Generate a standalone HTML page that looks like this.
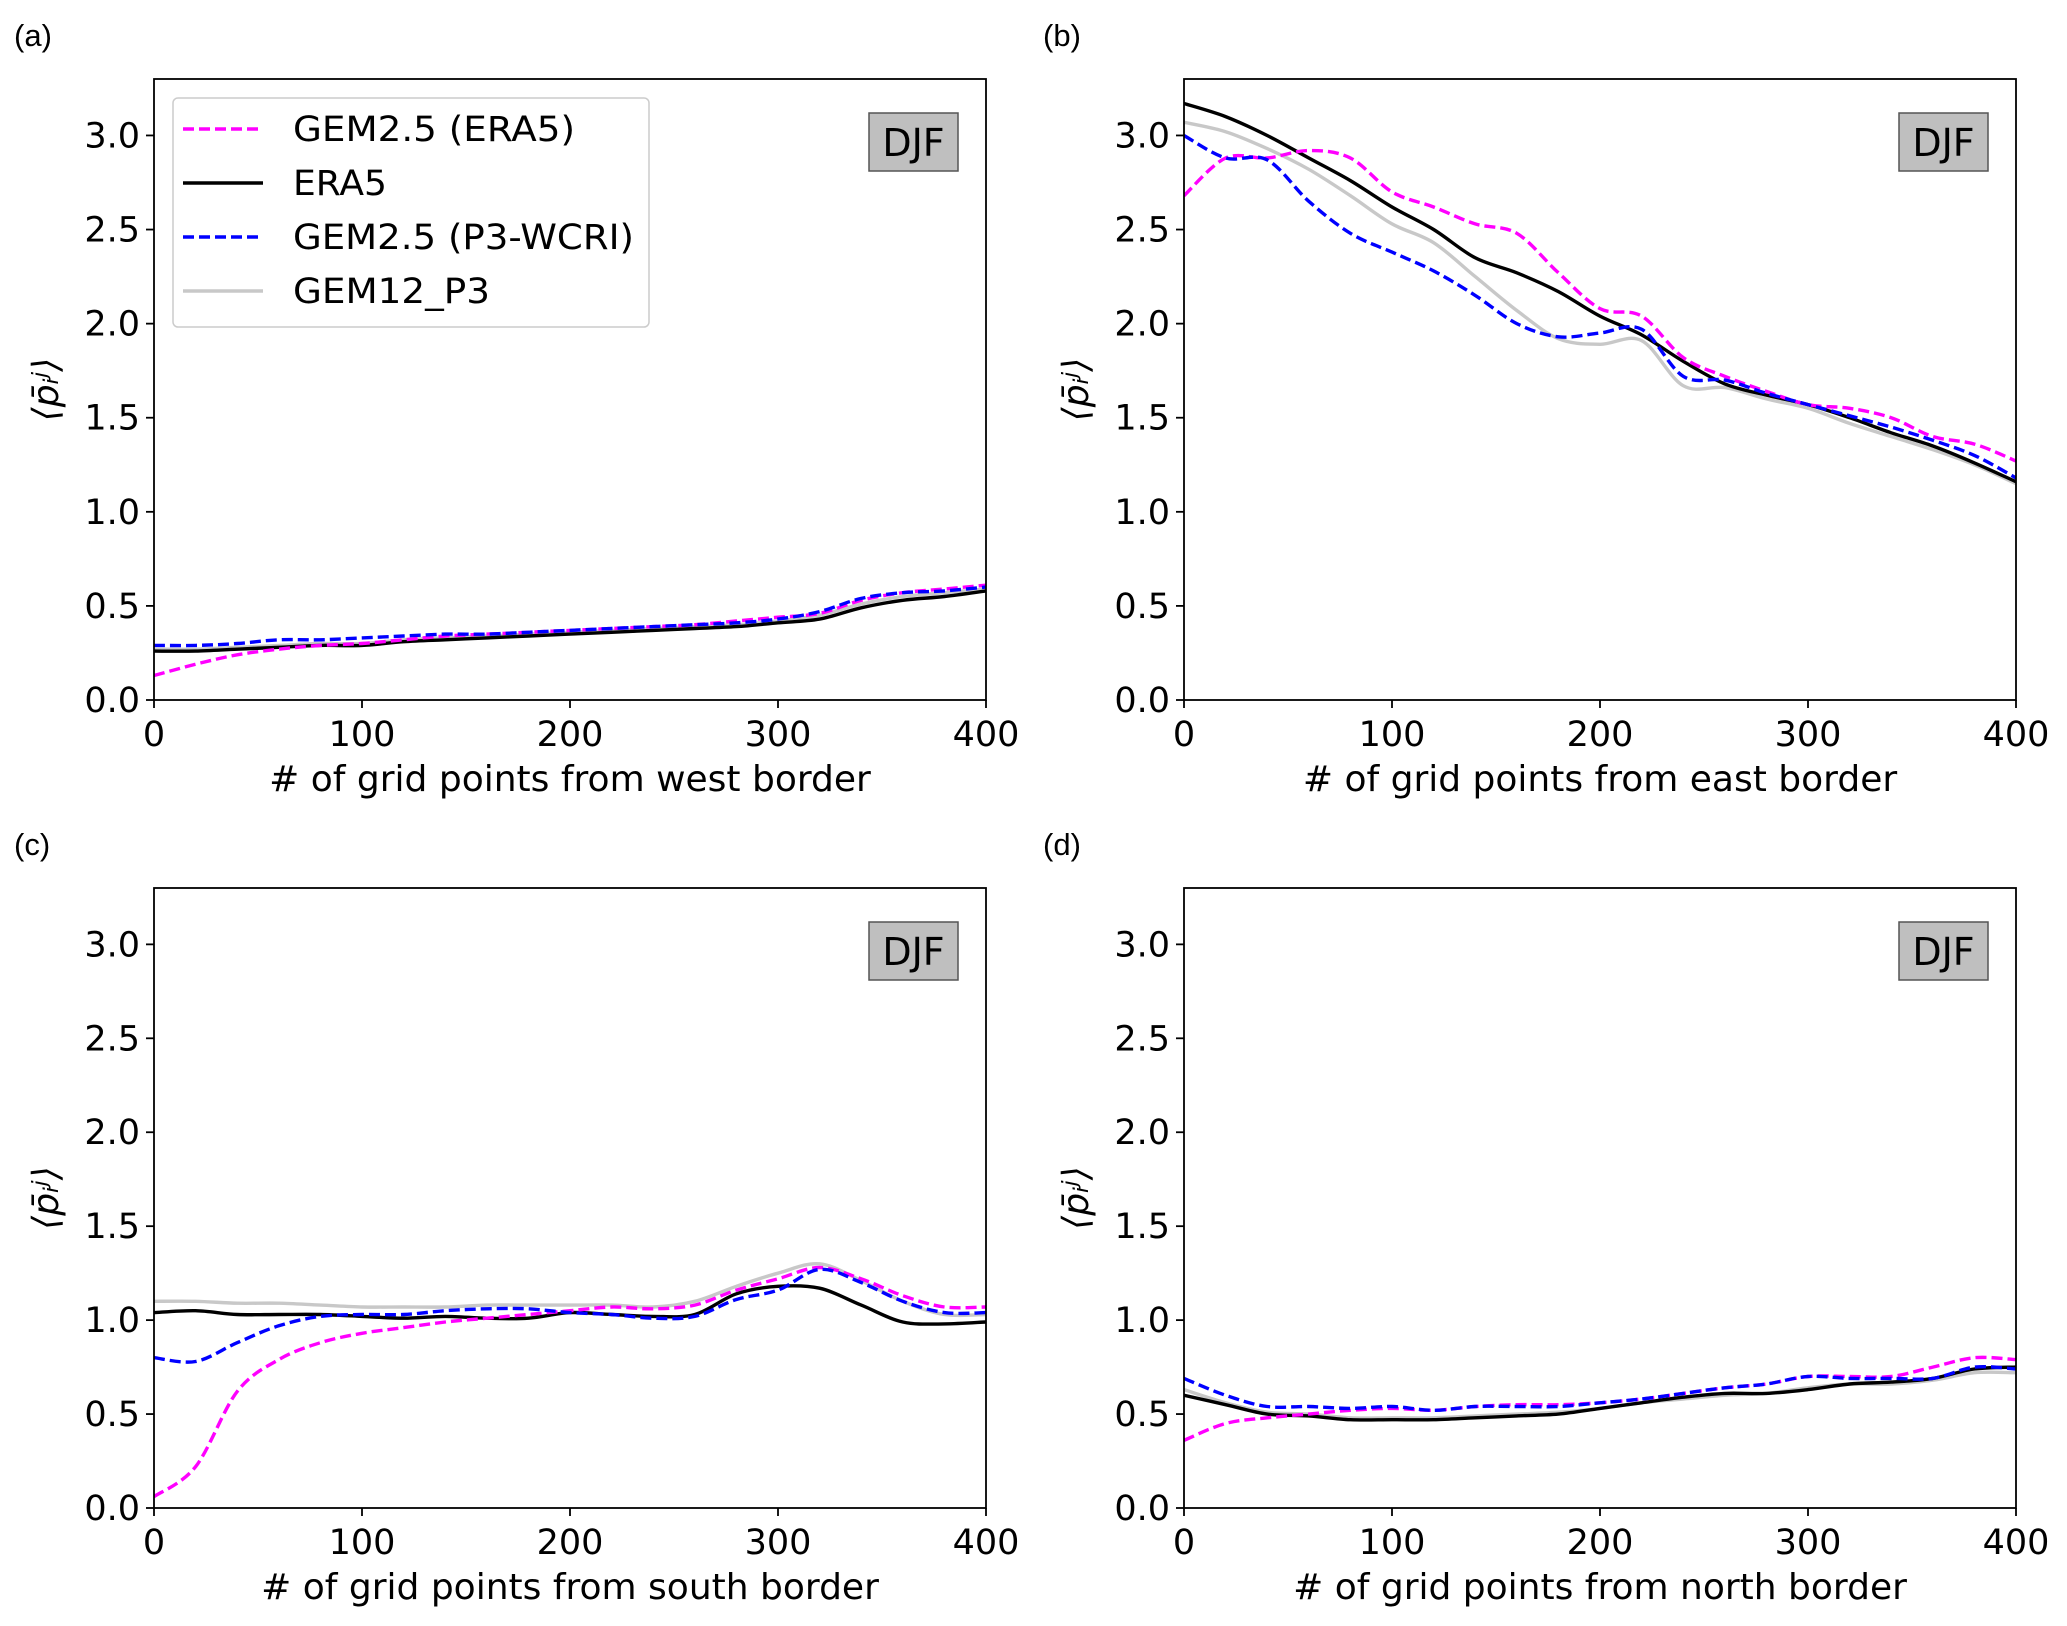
<!DOCTYPE html>
<html><head><meta charset="utf-8">
<style>
html,body{margin:0;padding:0;background:#fff;}
svg{display:block;font-family:"DejaVu Sans","Liberation Sans",sans-serif;}
</style></head>
<body>
<svg id="fig" width="2067" height="1626" viewBox="0 0 2067 1626" xmlns="http://www.w3.org/2000/svg"></svg>
<script>
const xValues = [0,20,40,60,80,100,120,140,160,180,200,220,240,260,280,300,320,340,360,380,400];
const xTicks = [0,100,200,300,400];
const yTicks = [0.0,0.5,1.0,1.5,2.0,2.5,3.0];
const seriesNames = ["GEM2.5 (ERA5)","ERA5","GEM2.5 (P3-WCRI)","GEM12_P3"];
const panelLabels = ["(a)","(b)","(c)","(d)"];
const xAxisTitles = ["# of grid points from west border","# of grid points from east border","# of grid points from south border","# of grid points from north border"];

const aMagenta = [0.13,0.19,0.24,0.27,0.29,0.30,0.32,0.34,0.35,0.36,0.37,0.38,0.39,0.40,0.42,0.44,0.46,0.53,0.57,0.59,0.61];
const aBlack   = [0.26,0.26,0.27,0.28,0.29,0.29,0.31,0.32,0.33,0.34,0.35,0.36,0.37,0.38,0.39,0.41,0.43,0.49,0.53,0.55,0.58];
const aBlue    = [0.29,0.29,0.30,0.32,0.32,0.33,0.34,0.35,0.35,0.36,0.37,0.38,0.39,0.40,0.41,0.43,0.47,0.54,0.57,0.58,0.60];
const aGray    = [0.27,0.27,0.28,0.29,0.30,0.30,0.32,0.33,0.34,0.35,0.36,0.37,0.38,0.39,0.40,0.42,0.45,0.51,0.55,0.57,0.59];

const bMagenta = [2.68,2.88,2.88,2.92,2.88,2.70,2.62,2.53,2.48,2.27,2.08,2.04,1.82,1.72,1.64,1.57,1.55,1.50,1.40,1.36,1.27];
const bBlack   = [3.17,3.10,3.00,2.88,2.76,2.62,2.50,2.35,2.27,2.17,2.04,1.94,1.80,1.68,1.62,1.57,1.50,1.42,1.35,1.26,1.16];
const bBlue    = [3.00,2.88,2.87,2.65,2.48,2.38,2.28,2.15,2.00,1.93,1.95,1.97,1.72,1.70,1.63,1.57,1.51,1.45,1.38,1.30,1.18];
const bGray    = [3.07,3.02,2.93,2.82,2.68,2.53,2.43,2.25,2.07,1.92,1.89,1.91,1.67,1.66,1.60,1.55,1.47,1.40,1.33,1.25,1.15];

const cMagenta = [0.06,0.22,0.62,0.79,0.88,0.93,0.96,0.99,1.01,1.03,1.05,1.07,1.06,1.08,1.16,1.22,1.28,1.22,1.13,1.07,1.07];
const cBlack   = [1.04,1.05,1.03,1.03,1.03,1.02,1.01,1.02,1.01,1.01,1.04,1.03,1.02,1.03,1.14,1.18,1.17,1.08,0.99,0.98,0.99];
const cBlue    = [0.80,0.78,0.88,0.97,1.02,1.03,1.03,1.05,1.06,1.06,1.04,1.03,1.01,1.02,1.11,1.16,1.27,1.20,1.10,1.04,1.04];
const cGray    = [1.10,1.10,1.09,1.09,1.08,1.07,1.07,1.07,1.08,1.08,1.08,1.08,1.07,1.10,1.18,1.25,1.30,1.21,1.10,1.03,1.03];

const dMagenta = [0.36,0.45,0.48,0.50,0.52,0.53,0.52,0.54,0.55,0.55,0.56,0.58,0.61,0.64,0.66,0.70,0.70,0.70,0.75,0.80,0.79];
const dBlack   = [0.60,0.55,0.50,0.49,0.47,0.47,0.47,0.48,0.49,0.50,0.53,0.56,0.59,0.61,0.61,0.63,0.66,0.67,0.69,0.74,0.75];
const dBlue    = [0.69,0.60,0.54,0.54,0.53,0.54,0.52,0.54,0.54,0.54,0.56,0.58,0.61,0.64,0.66,0.70,0.69,0.69,0.69,0.75,0.74];
const dGray    = [0.63,0.56,0.51,0.50,0.48,0.48,0.48,0.49,0.50,0.51,0.53,0.56,0.58,0.60,0.61,0.64,0.66,0.66,0.68,0.72,0.72];

const panelData = [
  {m:aMagenta,k:aBlack,b:aBlue,g:aGray},
  {m:bMagenta,k:bBlack,b:bBlue,g:bGray},
  {m:cMagenta,k:cBlack,b:cBlue,g:cGray},
  {m:dMagenta,k:dBlack,b:dBlue,g:dGray}
];

const NS="http://www.w3.org/2000/svg";
const svg=document.getElementById('fig');
function mk(tag,attrs,parent){const e=document.createElementNS(NS,tag);for(const k in attrs)e.setAttribute(k,attrs[k]);(parent||svg).appendChild(e);return e;}

const boxes=[{l:154,r:986,t:79,b:700,lx:14,ly:46},{l:1184,r:2016,t:79,b:700,lx:1043,ly:46},
             {l:154,r:986,t:888,b:1508,lx:14,ly:855},{l:1184,r:2016,t:888,b:1508,lx:1043,ly:855}];
const styles={m:{c:"#ff00ff",d:"11,5",n:"gem25-era5"},k:{c:"#000000",d:"",n:"era5"},b:{c:"#0000ff",d:"11,5",n:"gem25-p3wcri"},g:{c:"#c8c8c8",d:"",n:"gem12-p3"}};

function smoothPath(pts){
  let d="M"+pts[0][0].toFixed(1)+","+pts[0][1].toFixed(1);
  for(let i=0;i<pts.length-1;i++){
    const p0=pts[i-1]||pts[i],p1=pts[i],p2=pts[i+1],p3=pts[i+2]||p2;
    const c1=[p1[0]+(p2[0]-p0[0])/6,p1[1]+(p2[1]-p0[1])/6];
    const c2=[p2[0]-(p3[0]-p1[0])/6,p2[1]-(p3[1]-p1[1])/6];
    d+=" C"+c1[0].toFixed(1)+","+c1[1].toFixed(1)+" "+c2[0].toFixed(1)+","+c2[1].toFixed(1)+" "+p2[0].toFixed(1)+","+p2[1].toFixed(1);
  }
  return d;
}

boxes.forEach((B,pi)=>{
  const g=mk('g',{});
  
  
  const xs=v=>B.l+(v-0)/400*(B.r-B.l);
  const ys=v=>B.b-(v-0)/3.3*(B.b-B.t);
  const lab=mk('text',{x:B.lx,y:B.ly,'font-size':31,'font-family':'"Liberation Sans",sans-serif',fill:'#000'},g);
  lab.textContent=panelLabels[pi];
  
  
  const clipId='clip'+pi;
  const cp=mk('clipPath',{id:clipId},g);mk('rect',{x:B.l,y:B.t,width:B.r-B.l,height:B.b-B.t},cp);
  ['g','k','m','b'].forEach(key=>{
    const vals=panelData[pi][key];
    const pts=xValues.map((x,i)=>[xs(x),ys(vals[i])]);
    const p=mk('path',{d:smoothPath(pts),fill:'none',stroke:styles[key].c,'stroke-width':3.4,'stroke-dasharray':styles[key].d,'clip-path':'url(#'+clipId+')'},g);
    
    
  });
  const frame=mk('rect',{x:B.l,y:B.t,width:B.r-B.l,height:B.b-B.t,fill:'none',stroke:'#000','stroke-width':1.8},g);
  
  
  xTicks.forEach(v=>{
    mk('line',{x1:xs(v),x2:xs(v),y1:B.b,y2:B.b+8,stroke:'#000','stroke-width':1.8},g);
    const t=mk('text',{x:xs(v),y:B.b+46,'font-size':35,'text-anchor':'middle'},g);
    t.textContent=v;
    
    
  });
  yTicks.forEach(v=>{
    mk('line',{x1:B.l-8,x2:B.l,y1:ys(v),y2:ys(v),stroke:'#000','stroke-width':1.8},g);
    const t=mk('text',{x:B.l-14,y:ys(v)+12,'font-size':35,'text-anchor':'end'},g);
    t.textContent=v.toFixed(1);
    
    
  });
  const xt=mk('text',{x:(B.l+B.r)/2,y:B.b+91,'font-size':36,'text-anchor':'middle'},g);
  xt.textContent=xAxisTitles[pi];
  
  
  const cy=(B.t+B.b)/2;
  const yt=mk('text',{x:0,y:0,'font-size':36,'text-anchor':'middle','font-style':'italic',transform:'translate('+(B.l-96)+','+cy+') rotate(-90)'},g);
  yt.textContent="⟨p̄ᵢʲ⟩";
  
  
  const bx=B.r-117, by=B.t+34;
  const db=mk('rect',{x:bx,y:by,width:89,height:58,fill:'#bfbfbf',stroke:'#555','stroke-width':1.5},g);
  
  
  const dt=mk('text',{x:bx+44.5,y:by+43,'font-size':38,'text-anchor':'middle'},g);
  dt.textContent="DJF";
  
  
  if(pi===0){
    const lg=mk('g',{},g);
    
    
    mk('rect',{x:173,y:98,width:476,height:229,rx:5,fill:'#fff','fill-opacity':0.85,stroke:'#cccccc','stroke-width':1.5},lg);
    ['m','k','b','g'].forEach((key,i)=>{
      const y=129+i*54;
      const ln=mk('line',{x1:183,x2:263,y1:y,y2:y,stroke:styles[key].c,'stroke-width':3.6,'stroke-dasharray':styles[key].d},lg);
      
      
      const t=mk('text',{x:293,y:y+12,'font-size':35,textLength:(i===0?282:i===1?94:i===2?341:197),lengthAdjust:'spacingAndGlyphs'},lg);
      t.textContent=seriesNames[i];
      
      
    });
  }
});
</script>
</body></html>
